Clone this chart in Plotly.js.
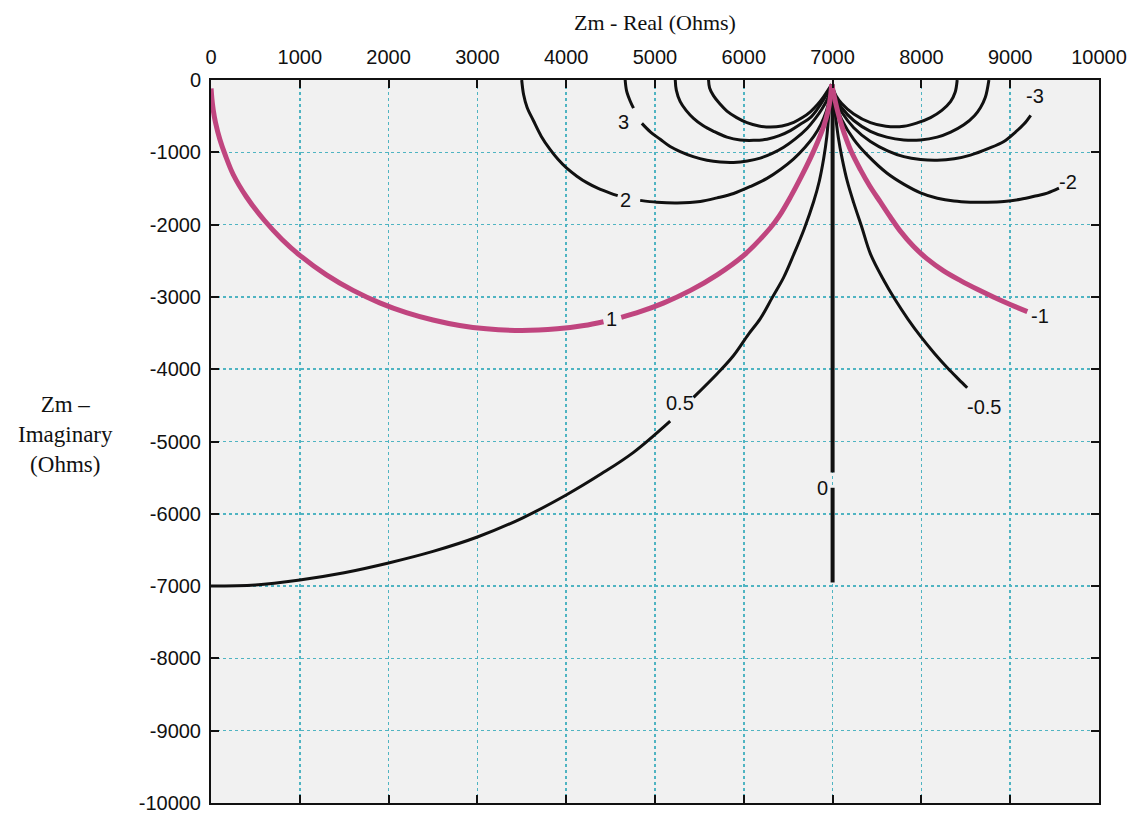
<!DOCTYPE html>
<html>
<head>
<meta charset="utf-8">
<script src="https://cdn.plot.ly/plotly-3.0.1.min.js"></script>
<style>
  html, body { margin: 0; padding: 0; background: #ffffff; }
  #chart { width: 1133px; height: 813px; }
</style>
</head>
<body>
<div id="chart"></div>
<script>
// ---- Axis ticks ----
const realTickVals = [0, 1000, 2000, 3000, 4000, 5000, 6000, 7000, 8000, 9000, 10000];
const realTickText = ['0', '1000', '2000', '3000', '4000', '5000', '6000', '7000', '8000', '9000', '10000'];
const imagTickVals = [0, -1000, -2000, -3000, -4000, -5000, -6000, -7000, -8000, -9000, -10000];
const imagTickText = ['0', '-1000', '-2000', '-3000', '-4000', '-5000', '-6000', '-7000', '-8000', '-9000', '-10000'];

// ---- Curves (null = gap where the label sits) ----
// ratio 1 (magenta)
const c1Re = [1, 10, 25, 50, 100, 160, 250, 400, 600, 800, 1000, 1300, 1600, 1900, 2200, 2500, 2800, 3100, 3500, 3900, 4200, 4420, null,
              4620, 4833, 5100, 5400, 5700, 6000, 6298, 6400, 6525, 6650, 6750, 6830, 6900, 6950, 6975, 6990];
const c1Im = [-117, -261, -414, -584, -823, -1036, -1307, -1618, -1940, -2205, -2425, -2695, -2910, -3082, -3218, -3320, -3396, -3442, -3465, -3442, -3396, -3343, null,
              -3283, -3204, -3082, -2910, -2695, -2425, -2047, -1880, -1620, -1330, -1080, -860, -640, -420, -240, -60];
// ratio -1 (magenta)
const cm1Re = [6990, 7032, 7080, 7126, 7210, 7313, 7420, 7539, 7650, 7765, 7910, 8065, 8250, 8441, 8630, 8817, 9000, 9193];
const cm1Im = [-60, -305, -540, -720, -990, -1240, -1470, -1690, -1895, -2094, -2300, -2475, -2640, -2775, -2895, -3005, -3105, -3203];
// ratio 0.5
const c05Re = [0, 500, 1000, 1500, 2000, 2500, 3000, 3500, 4000, 4400, 4758, 5171, null,
               5434, 5700, 5885, 6050, 6186, 6320, 6449, 6562, 6680, 6787, 6850, 6900, 6935, 6956, 6975, 6990];
const c05Im = [-7000, -6985, -6915, -6815, -6680, -6520, -6321, -6062, -5740, -5444, -5150, -4718, null,
               -4390, -4063, -3810, -3521, -3300, -3010, -2730, -2414, -2060, -1681, -1400, -1084, -780, -488, -250, -60];
// ratio -0.5
const cm05Re = [6990, 7010, 7032, 7065, 7107, 7165, 7238, 7330, 7426, 7576, 7700, 7850, 8000, 8150, 8300, 8420, 8516];
const cm05Im = [-60, -260, -488, -800, -1084, -1400, -1700, -2040, -2405, -2770, -3030, -3310, -3560, -3785, -3990, -4140, -4257];
// ratio 0
const c0Re = [7000, 7000, null, 7000, 7000];
const c0Im = [-60, -5430, null, -5640, -6950];
// ratio 2
const c2Re = [3499, 3520, 3560, 3630, 3720, 3818, 3910, 4006, 4120, 4232, 4360, 4495, 4580, null,
              4833, 5021, 5250, 5510, 5700, 5885, 6080, 6261, 6420, 6562, 6690, 6788, 6870, 6930, 6970, 6990];
const c2Im = [0, -200, -380, -560, -780, -960, -1100, -1220, -1330, -1420, -1500, -1565, -1600, null,
              -1665, -1690, -1700, -1680, -1630, -1570, -1470, -1360, -1230, -1090, -930, -780, -610, -430, -240, -60];
// ratio 3
const c3Re = [4664, 4680, 4720, 4758, null, 4852, 4950, 5059, 5170, 5284, 5430, 5585, 5735, 5885, 6040, 6186, 6320, 6449, 6580, 6712, 6800, 6880, 6950, 6990];
const c3Im = [0, -150, -290, -390, null, -600, -720, -820, -920, -990, -1060, -1110, -1135, -1140, -1120, -1080, -1015, -930, -815, -670, -540, -400, -240, -60];
// ratio 4
const c4Re = [5228, 5240, 5284, 5350, 5434, 5540, 5660, 5810, 5960, 6110, 6261, 6400, 6524, 6640, 6749, 6830, 6900, 6960, 6990];
const c4Im = [0, -140, -300, -420, -530, -630, -710, -790, -830, -835, -820, -770, -700, -610, -520, -400, -270, -140, -60];
// ratio 5
const c5Re = [5603, 5615, 5660, 5730, 5810, 5920, 6036, 6170, 6299, 6430, 6562, 6660, 6749, 6830, 6900, 6960, 6990];
const c5Im = [0, -110, -220, -330, -430, -520, -590, -635, -650, -635, -585, -520, -440, -340, -230, -120, -60];
// ratio -2
const cm2Re = [6990, 7030, 7100, 7238, 7400, 7614, 7800, 7990, 8180, 8366, 8550, 8742, 8930, 9117, 9300, 9418, 9549];
const cm2Im = [-60, -320, -540, -820, -1050, -1290, -1440, -1560, -1635, -1675, -1690, -1690, -1680, -1650, -1600, -1565, -1497];
// ratio -3
const cm3Re = [6990, 7040, 7100, 7238, 7426, 7620, 7802, 7990, 8178, 8370, 8553, 8750, 8929, 9060, 9155, 9231];
const cm3Im = [-60, -300, -440, -660, -850, -980, -1060, -1100, -1110, -1090, -1039, -950, -850, -720, -610, -488];
// ratio -4
const cm4Re = [6990, 7040, 7100, 7238, 7426, 7610, 7802, 7990, 8178, 8330, 8478, 8600, 8666, 8720, 8760];
const cm4Im = [-60, -260, -380, -560, -710, -790, -830, -830, -790, -720, -620, -490, -380, -240, 0];
// ratio -5
const cm5Re = [6990, 7040, 7100, 7238, 7426, 7600, 7802, 7960, 8103, 8230, 8328, 8380, 8403];
const cm5Im = [-60, -220, -320, -470, -590, -640, -640, -590, -520, -420, -300, -170, 0];

// ---- Curve labels ----
const labelText = ['0', '0.5', '1', '2', '3', '-0.5', '-1', '-2', '-3'];
const labelRe = [6885, 5284, 4510, 4664, 4641, 8700, 9330, 9656, 9275];
const labelIm = [-5645, -4464, -3310, -1657, -586, -4518, -3267, -1410, -228];

const BLACK = '#111111';
const MAGENTA = '#c0457f';

function curve(x, y, color, width) {
  return {
    type: 'scatter', mode: 'lines', x: x, y: y,
    line: { color: color, width: width, shape: 'spline', smoothing: 1, simplify: false },
    connectgaps: false, hoverinfo: 'skip', showlegend: false
  };
}

const traces = [
  curve(c05Re, c05Im, BLACK, 3),
  curve(cm05Re, cm05Im, BLACK, 3),
  curve(c0Re, c0Im, BLACK, 4),
  curve(c2Re, c2Im, BLACK, 3),
  curve(c3Re, c3Im, BLACK, 3),
  curve(c4Re, c4Im, BLACK, 3),
  curve(c5Re, c5Im, BLACK, 3),
  curve(cm2Re, cm2Im, BLACK, 3),
  curve(cm3Re, cm3Im, BLACK, 3),
  curve(cm4Re, cm4Im, BLACK, 3),
  curve(cm5Re, cm5Im, BLACK, 3),
  curve(c1Re, c1Im, MAGENTA, 5),
  curve(cm1Re, cm1Im, MAGENTA, 5)
];

const annotations = labelText.map((t, i) => ({
  x: labelRe[i], y: labelIm[i], xref: 'x', yref: 'y', text: t, showarrow: false,
  font: { family: 'Liberation Sans, Arial, sans-serif', size: 20, color: '#111111' },
  xanchor: 'center', yanchor: 'middle'
}));

annotations.push({
  xref: 'paper', yref: 'paper', x: 0.5, y: 1.079, xanchor: 'center', yanchor: 'middle',
  text: 'Zm - Real (Ohms)', showarrow: false,
  font: { family: 'Liberation Serif, Times New Roman, serif', size: 22, color: '#111111' }
});
annotations.push({
  xref: 'paper', yref: 'paper', x: -0.164, y: 0.51, xanchor: 'center', yanchor: 'middle',
  text: 'Zm –<br>Imaginary<br>(Ohms)', showarrow: false, align: 'center',
  font: { family: 'Liberation Serif, Times New Roman, serif', size: 23, color: '#111111' }
});

const tickFont = { family: 'Liberation Sans, Arial, sans-serif', size: 20, color: '#111111' };

const layout = {
  width: 1133, height: 813,
  margin: { l: 211, r: 34, t: 80, b: 10 },
  paper_bgcolor: '#ffffff',
  plot_bgcolor: '#f1f1f1',
  showlegend: false,
  xaxis: {
    range: [0, 10000], side: 'top',
    tickvals: realTickVals, ticktext: realTickText,
    tickfont: tickFont, ticks: 'inside', ticklen: 8, tickwidth: 2, tickcolor: '#111',
    ticklabelstandoff: 6, ticklabeloverflow: 'allow',
    showline: true, linecolor: '#111', linewidth: 2, mirror: 'ticks',
    showgrid: true, gridcolor: '#4fb4c2', gridwidth: 1.5, griddash: 'dot',
    zeroline: false, fixedrange: true
  },
  yaxis: {
    range: [-10000, 0],
    tickvals: imagTickVals, ticktext: imagTickText,
    tickfont: tickFont, ticks: 'inside', ticklen: 8, tickwidth: 2, tickcolor: '#111',
    ticklabelstandoff: 4, ticklabeloverflow: 'allow',
    showline: true, linecolor: '#111', linewidth: 2, mirror: 'ticks',
    showgrid: true, gridcolor: '#4fb4c2', gridwidth: 1.5, griddash: 'dot',
    zeroline: false, fixedrange: true
  },
  annotations: annotations
};

Plotly.newPlot('chart', traces, layout, { displayModeBar: false, staticPlot: true });
</script>
</body>
</html>
